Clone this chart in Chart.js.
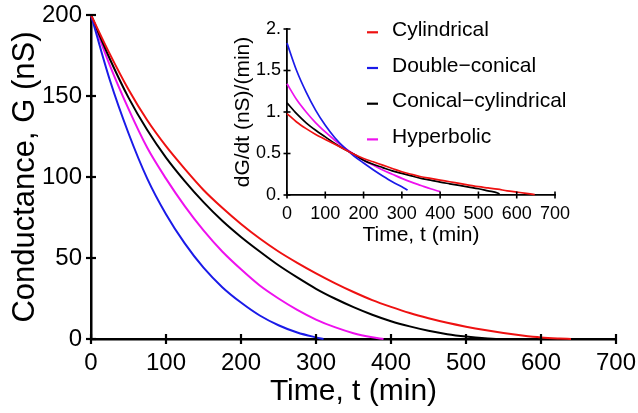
<!DOCTYPE html>
<html>
<head>
<meta charset="utf-8">
<script src="https://cdn.jsdelivr.net/npm/chart.js@4/dist/chart.umd.min.js"></script>
<style>
  html, body { margin: 0; padding: 0; background: #ffffff; }
  #wrap { position: relative; width: 638px; height: 413px; background: #ffffff; }
  #main { position: absolute; left: 0; top: 0; }
  #inset { position: absolute; left: 225px; top: 0; }
</style>
</head>
<body>
<div id="wrap">
  <canvas id="main" width="638" height="413"></canvas>
  <canvas id="inset" width="413" height="250"></canvas>
</div>
<script>
// ---------- DATA ----------
const seriesNames = ['Cylindrical', 'Double\u2212conical', 'Conical\u2212cylindrical', 'Hyperbolic'];
const seriesColors = ['#ee1111', '#1a1ae8', '#000000', '#ee11ee'];

// Main chart: conductance G (nS) vs time t (min)
const tCyl = [0,25,50,75,100,125,150,175,200,225,250,275,300,325,350,375,400,425,450,475,500,525,550,575,600,625,640];
const gCyl = [200,176,154,135,119,105,92,81,71,62,54,47,40.5,34.5,29,24,19.8,16,12.8,10,7.6,5.5,3.7,2.2,1.0,0.3,0];

const tDbl = [0,25,50,75,100,125,150,175,200,225,250,275,300,310];
const gDbl = [200,160,127,99,77,59,44,32,22.5,14.5,8.5,4,1,0];

const tConCyl = [0,25,50,75,100,125,150,175,200,225,250,275,300,325,350,375,400,425,450,475,500,525,540];
const gConCyl = [200,173,149,129,112,97.5,84.5,73,63,54,45.5,38,31,25,19.7,15,11,7.8,5.1,3,1.5,0.4,0];

const tHyp = [0,25,50,75,100,125,150,175,200,225,250,275,300,325,350,375,390];
const gHyp = [200,169,142,118,99,82,67,54,43,33,25,18,12,7.3,3.6,1.1,0];

// Inset: dG/dt (nS/min) vs time t (min)
const tCylD = [0,25,50,75,100,125,150,175,200,225,250,275,300,325,350,375,400,425,450,475,500,525,550,575,600,625,647];
const dCyl = [0.98,0.88,0.8,0.73,0.67,0.61,0.55,0.49,0.44,0.40,0.36,0.32,0.28,0.25,0.22,0.2,0.18,0.16,0.14,0.12,0.10,0.085,0.07,0.05,0.035,0.02,0.005];

const tDblD = [0,25,50,75,100,125,150,175,200,225,250,275,300,315];
const dDbl = [1.83,1.5,1.24,1.02,0.84,0.69,0.57,0.47,0.385,0.305,0.23,0.16,0.1,0.06];

const tConCylD = [0,25,50,75,100,125,150,175,200,225,250,275,300,325,350,375,400,425,450,475,500,525,550,555];
const dConCyl = [1.11,0.98,0.87,0.78,0.70,0.62,0.55,0.49,0.42,0.37,0.33,0.29,0.26,0.23,0.2,0.18,0.155,0.135,0.115,0.095,0.075,0.05,0.025,0.01];

const tHypD = [0,25,50,75,100,125,150,175,200,225,250,275,300,325,350,375,400];
const dHyp = [1.34,1.15,1.0,0.87,0.76,0.66,0.57,0.49,0.42,0.36,0.3,0.25,0.2,0.155,0.115,0.075,0.04];

// Tick labels
const mainXTicks = [0,100,200,300,400,500,600,700];
const mainYTicks = [0,50,100,150,200];
const insetXTicks = [0,100,200,300,400,500,600,700];
const insetYTickLabels = ['0.', '0.5', '1.', '1.5', '2.'];

// ---------- HELPERS ----------
const FONT = "'Liberation Sans', Arial, Helvetica, sans-serif";
function pts(ts, vs) { return ts.map((t, i) => ({ x: t, y: vs[i] })); }

function makeDatasets(pairs, width) {
  return pairs.map((p, i) => ({
    label: seriesNames[i],
    data: pts(p[0], p[1]),
    borderColor: seriesColors[i],
    backgroundColor: seriesColors[i],
    borderWidth: width,
    pointRadius: 0,
    fill: false,
    cubicInterpolationMode: 'monotone',
    clip: false
  }));
}

// tick marks crossing the axis lines
const crossTicks = {
  id: 'crossTicks',
  afterDraw(chart, args, opts) {
    const ctx = chart.ctx;
    const a = chart.chartArea;
    const xs = chart.scales.x, ys = chart.scales.y;
    ctx.save();
    ctx.strokeStyle = '#000';
    ctx.lineWidth = opts.width;
    xs.ticks.forEach(t => {
      const px = xs.getPixelForValue(t.value);
      ctx.beginPath();
      ctx.moveTo(px, a.bottom - opts.inner);
      ctx.lineTo(px, a.bottom + opts.outer);
      ctx.stroke();
    });
    ys.ticks.forEach(t => {
      const py = ys.getPixelForValue(t.value);
      ctx.beginPath();
      ctx.moveTo(a.left - opts.outer, py);
      ctx.lineTo(a.left + opts.inner, py);
      ctx.stroke();
    });
    ctx.restore();
  }
};

// inset legend
const insetLegend = {
  id: 'insetLegend',
  afterDraw(chart, args, opts) {
    if (!opts.show) return;
    const ctx = chart.ctx;
    ctx.save();
    ctx.font = opts.fontSize + 'px ' + FONT;
    ctx.textBaseline = 'alphabetic';
    ctx.textAlign = 'left';
    chart.data.datasets.forEach((ds, i) => {
      const y = opts.y0 + i * opts.dy;
      ctx.strokeStyle = ds.borderColor;
      ctx.lineWidth = 2.2;
      ctx.beginPath();
      ctx.moveTo(opts.x0, y);
      ctx.lineTo(opts.x0 + opts.len, y);
      ctx.stroke();
      ctx.fillStyle = '#000';
      ctx.fillText(ds.label, opts.tx, y + 3.5);
    });
    ctx.restore();
  }
};

function noPad(s) { s.paddingLeft = 0; s.paddingRight = 0; s.paddingTop = 0; s.paddingBottom = 0; }

// ---------- MAIN CHART ----------
new Chart(document.getElementById('main'), {
  type: 'line',
  data: {
    datasets: makeDatasets([[tCyl, gCyl], [tDbl, gDbl], [tConCyl, gConCyl], [tHyp, gHyp]], 2)
  },
  options: {
    responsive: false,
    animation: false,
    devicePixelRatio: 1,
    layout: { padding: { left: 0, top: 15, right: 22, bottom: 0 } },
    plugins: {
      legend: { display: false },
      tooltip: { enabled: false },
      crossTicks: { width: 2.2, inner: 5, outer: 5 },
      insetLegend: { show: false }
    },
    scales: {
      x: {
        type: 'linear', min: 0, max: 700,
        afterBuildTicks: s => { s.ticks = mainXTicks.map(v => ({ value: v })); },
        afterFit: s => { s.height = 74; noPad(s); },
        grid: { display: false, drawTicks: false },
        border: { display: true, color: '#000', width: 2.5 },
        ticks: { color: '#000', font: { family: FONT, size: 24 }, padding: 10, autoSkip: false, maxRotation: 0 },
        title: { display: true, text: 'Time, t (min)', color: '#000',
                 font: { family: FONT, size: 30, lineHeight: 1 }, padding: { top: 0, bottom: 6 } }
      },
      y: {
        type: 'linear', min: 0, max: 200,
        afterBuildTicks: s => { s.ticks = mainYTicks.map(v => ({ value: v })); },
        afterFit: s => { s.width = 91; noPad(s); },
        grid: { display: false, drawTicks: false },
        border: { display: true, color: '#000', width: 2.5 },
        ticks: { color: '#000', font: { family: FONT, size: 24 }, padding: 9, autoSkip: false },
        title: { display: true, text: 'Conductance, G (nS)', color: '#000',
                 font: { family: FONT, size: 31, lineHeight: 1 }, padding: { top: 10, bottom: 0 } }
      }
    }
  },
  plugins: [crossTicks, insetLegend]
});

// ---------- INSET CHART ----------
new Chart(document.getElementById('inset'), {
  type: 'line',
  data: {
    datasets: makeDatasets([[tCylD, dCyl], [tDblD, dDbl], [tConCylD, dConCyl], [tHypD, dHyp]], 1.7)
  },
  options: {
    responsive: false,
    animation: false,
    devicePixelRatio: 1,
    layout: { padding: { left: 0, top: 29, right: 83, bottom: 0 } },
    plugins: {
      legend: { display: false },
      tooltip: { enabled: false },
      crossTicks: { width: 1.6, inner: 3.5, outer: 3.5 },
      insetLegend: { show: true, x0: 142, len: 11, tx: 167, y0: 32.3, dy: 35.7, fontSize: 21 }
    },
    scales: {
      x: {
        type: 'linear', min: 0, max: 700,
        afterBuildTicks: s => { s.ticks = insetXTicks.map(v => ({ value: v })); },
        afterFit: s => { s.height = 55; noPad(s); },
        grid: { display: false, drawTicks: false },
        border: { display: true, color: '#000', width: 1.8 },
        ticks: { color: '#000', font: { family: FONT, size: 18 }, padding: 8, autoSkip: false, maxRotation: 0 },
        title: { display: true, text: 'Time, t (min)', color: '#000',
                 font: { family: FONT, size: 21, lineHeight: 1 }, padding: { top: 0, bottom: 4.5 } }
      },
      y: {
        type: 'linear', min: 0, max: 2,
        afterBuildTicks: s => { s.ticks = [0, 0.5, 1, 1.5, 2].map(v => ({ value: v })); },
        afterFit: s => { s.width = 62; noPad(s); },
        grid: { display: false, drawTicks: false },
        border: { display: true, color: '#000', width: 1.8 },
        ticks: { color: '#000', font: { family: FONT, size: 18 }, padding: 6, autoSkip: false,
                 callback: (v, i) => insetYTickLabels[i] },
        title: { display: true, text: 'dG/dt (nS)/(min)', color: '#000',
                 font: { family: FONT, size: 21, lineHeight: 1 }, padding: { top: 7.5, bottom: 0 } }
      }
    }
  },
  plugins: [crossTicks, insetLegend]
});
</script>
</body>
</html>
